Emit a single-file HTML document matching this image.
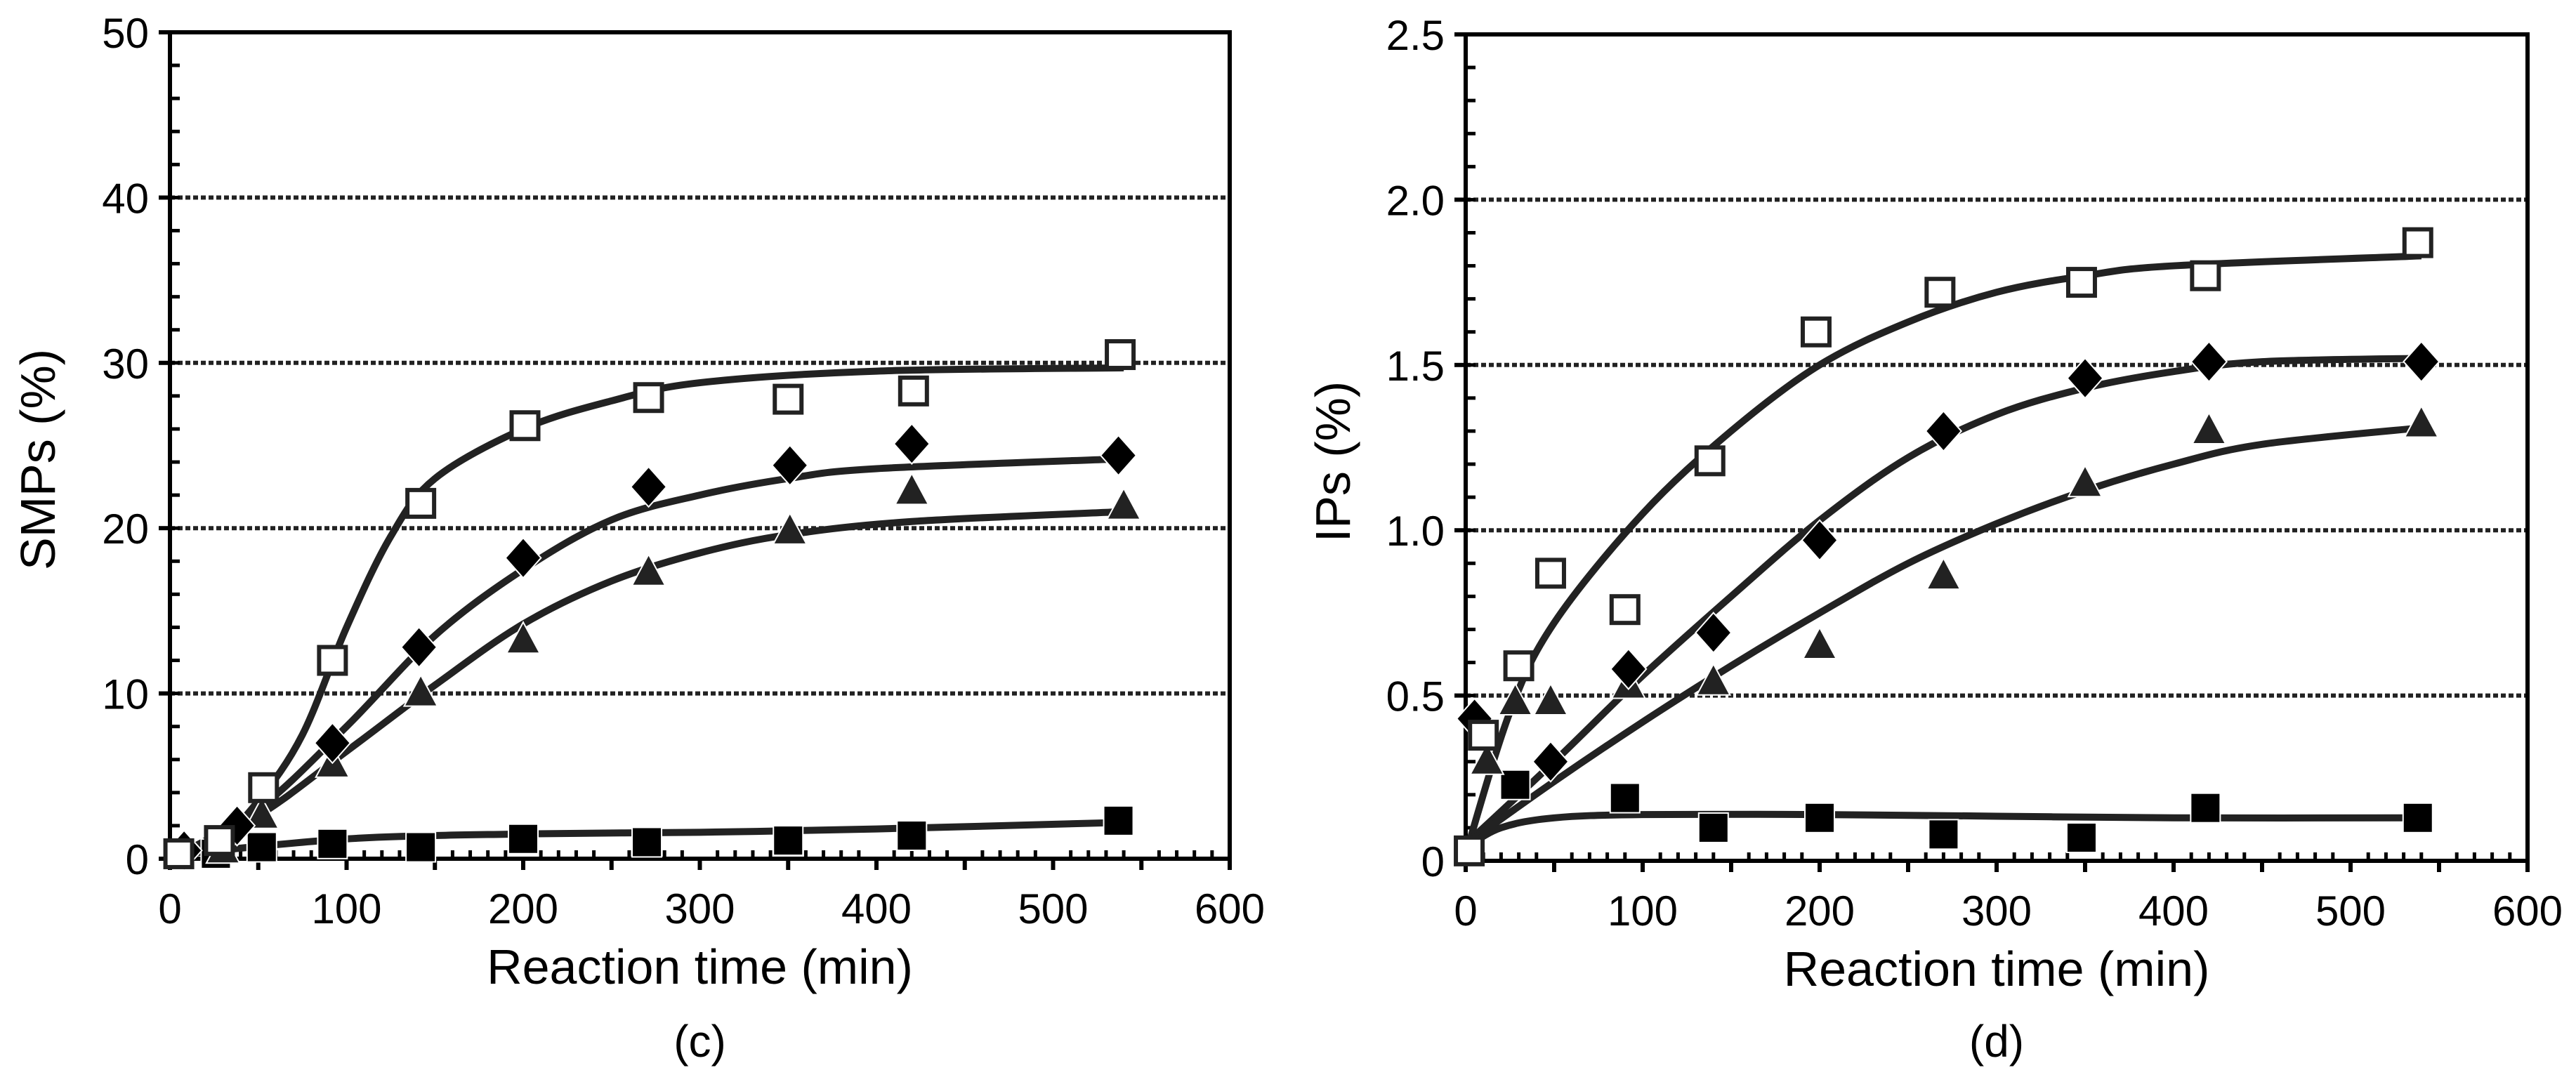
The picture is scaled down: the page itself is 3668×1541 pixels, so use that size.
<!DOCTYPE html>
<html><head><meta charset="utf-8">
<style>
html,body{margin:0;padding:0;background:#fff;}
svg{display:block;font-family:"Liberation Sans",Arial,sans-serif;}
</style></head>
<body>
<svg id="fig" width="3668" height="1541" viewBox="0 0 3668 1541"></svg>
<script>
// ---------- Panel (c): SMPs ----------
const cOpenSqX = [5, 28, 53, 92, 142, 201, 271, 350, 421, 538];
const cOpenSqY = [0.3, 1.1, 4.3, 12.0, 21.5, 26.2, 27.9, 27.8, 28.3, 30.5];
const cDiaX = [8, 38, 92, 141, 200, 271, 351, 420, 537];
const cDiaY = [0.5, 2.0, 7.0, 12.8, 18.2, 22.5, 23.8, 25.1, 24.4];
const cTriX = [30, 52, 92, 142, 200, 271, 351, 420, 540];
const cTriY = [0.5, 2.6, 5.7, 10.0, 13.2, 17.3, 19.8, 22.2, 21.3];
const cFillSqX = [26, 52, 92, 142, 200, 270, 350, 420, 537];
const cFillSqY = [0.3, 0.7, 0.9, 0.7, 1.2, 1.0, 1.1, 1.4, 2.3];
const cFitOpenT = [0, 25, 50, 75, 100, 125, 150, 200, 250, 300, 400, 540];
const cFitOpenV = [0, 0.8, 3.5, 7.5, 14.0, 19.5, 23.0, 26.0, 27.7, 28.8, 29.5, 29.7];
const cFitDiaT = [0, 50, 100, 150, 200, 250, 300, 350, 400, 540];
const cFitDiaV = [0, 3.0, 8.0, 13.5, 17.5, 20.5, 22.0, 23.0, 23.6, 24.2];
const cFitTriT = [0, 50, 100, 150, 200, 250, 300, 350, 420, 540];
const cFitTriV = [0, 2.6, 6.5, 10.5, 14.2, 16.8, 18.5, 19.6, 20.4, 21.0];
const cFitFillT = [0, 100, 200, 300, 400, 540];
const cFitFillV = [0.2, 1.2, 1.5, 1.6, 1.8, 2.2];
const cYTicks = [0, 10, 20, 30, 40, 50];
const cYTickLabels = ["0", "10", "20", "30", "40", "50"];
const xTicks = [0, 100, 200, 300, 400, 500, 600];
const xTickLabels = ["0", "100", "200", "300", "400", "500", "600"];

// ---------- Panel (d): IPs ----------
const dOpenSqX = [2, 10, 30, 48, 90, 138, 198, 268, 348, 418, 538];
const dOpenSqY = [0.03, 0.38, 0.59, 0.87, 0.76, 1.21, 1.60, 1.72, 1.75, 1.77, 1.87];
const dDiaX = [5, 48, 92, 140, 200, 270, 350, 420, 540];
const dDiaY = [0.43, 0.30, 0.58, 0.69, 0.97, 1.30, 1.46, 1.51, 1.51];
const dTriX = [12, 28, 48, 92, 140, 200, 270, 350, 420, 540];
const dTriY = [0.30, 0.48, 0.48, 0.53, 0.54, 0.65, 0.86, 1.14, 1.30, 1.32];
const dFillSqX = [28, 90, 140, 200, 270, 348, 418, 538];
const dFillSqY = [0.23, 0.19, 0.10, 0.13, 0.08, 0.07, 0.16, 0.13];
const dFitOpenT = [0, 25, 50, 100, 150, 200, 250, 300, 350, 400, 540];
const dFitOpenV = [0.02, 0.45, 0.72, 1.05, 1.30, 1.50, 1.63, 1.72, 1.77, 1.80, 1.83];
const dFitDiaT = [0, 50, 100, 150, 200, 250, 300, 350, 400, 450, 540];
const dFitDiaV = [0.05, 0.30, 0.56, 0.80, 1.03, 1.22, 1.35, 1.43, 1.48, 1.51, 1.52];
const dFitTriT = [0, 50, 100, 150, 200, 250, 300, 350, 400, 450, 540];
const dFitTriV = [0.05, 0.24, 0.42, 0.59, 0.75, 0.90, 1.02, 1.12, 1.20, 1.26, 1.31];
const dFitFillT = [0, 20, 50, 100, 200, 300, 400, 540];
const dFitFillV = [0.04, 0.10, 0.13, 0.14, 0.14, 0.135, 0.13, 0.13];
const dYTicks = [0, 0.5, 1.0, 1.5, 2.0, 2.5];
const dYTickLabels = ["0", "0.5", "1.0", "1.5", "2.0", "2.5"];

const NS = "http://www.w3.org/2000/svg";
const svg = document.getElementById("fig");
function mk(tag, attrs, parent) {
  const e = document.createElementNS(NS, tag);
  for (const k in attrs) e.setAttribute(k, attrs[k]);
  (parent || svg).appendChild(e);
  return e;
}
function smoothPath(pts) {
  let d = "M" + pts[0][0] + "," + pts[0][1];
  for (let i = 0; i < pts.length - 1; i++) {
    const p0 = pts[Math.max(0, i - 1)], p1 = pts[i], p2 = pts[i + 1], p3 = pts[Math.min(pts.length - 1, i + 2)];
    const c1x = p1[0] + (p2[0] - p0[0]) / 6, c1y = p1[1] + (p2[1] - p0[1]) / 6;
    const c2x = p2[0] - (p3[0] - p1[0]) / 6, c2y = p2[1] - (p3[1] - p1[1]) / 6;
    d += " C" + c1x + "," + c1y + " " + c2x + "," + c2y + " " + p2[0] + "," + p2[1];
  }
  return d;
}

function panel(cfg) {
  const g = mk("g", {});
  
  
  const X = t => cfg.x0 + (cfg.x1 - cfg.x0) * t / 600;
  const Y = v => cfg.y0 - (cfg.y0 - cfg.yTop) * v / cfg.yMax;

  cfg.yTicks.forEach(v => {
    if (v === 0 || v === cfg.yMax) return;
    const l = mk("line", {x1: X(0), x2: X(600), y1: Y(v), y2: Y(v), stroke: "#222", "stroke-width": 6, "stroke-dasharray": "7 4"}, g);
    
    
  });
  for (let i = 0; i <= cfg.yMax / cfg.yMinor + 0.01; i++) {
    const v = i * cfg.yMinor;
    mk("line", {x1: X(0), x2: X(0) + 14, y1: Y(v), y2: Y(v), stroke: "#000", "stroke-width": 5}, g);
  }
  cfg.yTicks.forEach((v, i) => {
    mk("line", {x1: X(0) - 16, x2: X(0), y1: Y(v), y2: Y(v), stroke: "#000", "stroke-width": 6}, g);
    const t = mk("text", {x: X(0) - 30, y: Y(v) + 22, "text-anchor": "end", "font-size": 60, fill: "#000"}, g);
    t.textContent = cfg.yLabels[i];
    
    
  });
  for (let t = 0; t <= 600; t += 10) {
    if (t % 50 === 0) mk("line", {x1: X(t), x2: X(t), y1: Y(0), y2: Y(0) + 16, stroke: "#000", "stroke-width": 6}, g);
    else mk("line", {x1: X(t), x2: X(t), y1: Y(0), y2: Y(0) - 12, stroke: "#000", "stroke-width": 5}, g);
  }
  xTicks.forEach((v, i) => {
    const t = mk("text", {x: X(v), y: Y(0) + 92, "text-anchor": "middle", "font-size": 60, fill: "#000"}, g);
    t.textContent = xTickLabels[i];
    
    
  });
  const fr = mk("rect", {x: X(0), y: Y(cfg.yMax), width: X(600) - X(0), height: Y(0) - Y(cfg.yMax), fill: "none", stroke: "#000", "stroke-width": 6}, g);
  
  

  cfg.fits.forEach(f => {
    const pts = f.t.map((t, i) => [X(t), Y(f.v[i])]);
    const p = mk("path", {d: smoothPath(pts), fill: "none", stroke: "#222", "stroke-width": 10}, g);
    
    
  });

  cfg.series.forEach(s => {
    s.x.forEach((t, i) => {
      const cx = X(t), cy = Y(s.y[i]);
      let m;
      if (s.kind === "open") m = mk("rect", {x: cx - 19, y: cy - 19, width: 38, height: 38, fill: "#fff", stroke: "#222", "stroke-width": 6}, g);
      else if (s.kind === "fillsq") m = mk("rect", {x: cx - 20, y: cy - 20, width: 40, height: 40, fill: "#000", stroke: "#fff", "stroke-width": 4, "paint-order": "stroke"}, g);
      else if (s.kind === "dia") m = mk("polygon", {points: `${cx},${cy - 27} ${cx + 24},${cy} ${cx},${cy + 27} ${cx - 24},${cy}`, fill: "#000", stroke: "#fff", "stroke-width": 4, "paint-order": "stroke"}, g);
      else m = mk("polygon", {points: `${cx},${cy - 24} ${cx + 22},${cy + 17} ${cx - 22},${cy + 17}`, fill: "#222", stroke: "#fff", "stroke-width": 4, "paint-order": "stroke"}, g);
      
      
    });
  });

  const xt = mk("text", {x: (X(0) + X(600)) / 2, y: cfg.y0 + 178, "text-anchor": "middle", "font-size": 70, fill: "#000"}, g);
  xt.textContent = "Reaction time (min)";
  
  
  const yt = mk("text", {x: 0, y: 0, "text-anchor": "middle", "font-size": 70, fill: "#000", transform: `translate(${cfg.yTitleX},${(Y(0) + Y(cfg.yMax)) / 2 + 20}) rotate(-90)`}, g);
  yt.textContent = cfg.yTitle;
  
  
  const pl = mk("text", {x: (X(0) + X(600)) / 2, y: 1505, "text-anchor": "middle", "font-size": 64, fill: "#000"}, g);
  pl.textContent = cfg.label;
  
  
}

panel({
  name: "smps-chart", x0: 242, x1: 1751, y0: 1223, yTop: 46, yMax: 50, yMinor: 2,
  yTicks: cYTicks, yLabels: cYTickLabels, yTitle: "SMPs (%)", yTitleX: 78, label: "(c)",
  fits: [
    {name: "fit-open-square", t: cFitOpenT, v: cFitOpenV},
    {name: "fit-diamond", t: cFitDiaT, v: cFitDiaV},
    {name: "fit-triangle", t: cFitTriT, v: cFitTriV},
    {name: "fit-filled-square", t: cFitFillT, v: cFitFillV}
  ],
  series: [
    {name: "point-filled-square", kind: "fillsq", x: cFillSqX, y: cFillSqY},
    {name: "point-triangle", kind: "tri", x: cTriX, y: cTriY},
    {name: "point-diamond", kind: "dia", x: cDiaX, y: cDiaY},
    {name: "point-open-square", kind: "open", x: cOpenSqX, y: cOpenSqY}
  ]
});
panel({
  name: "ips-chart", x0: 2087, x1: 3599, y0: 1226, yTop: 49, yMax: 2.5, yMinor: 0.1,
  yTicks: dYTicks, yLabels: dYTickLabels, yTitle: "IPs (%)", yTitleX: 1922, label: "(d)",
  fits: [
    {name: "fit-open-square", t: dFitOpenT, v: dFitOpenV},
    {name: "fit-diamond", t: dFitDiaT, v: dFitDiaV},
    {name: "fit-triangle", t: dFitTriT, v: dFitTriV},
    {name: "fit-filled-square", t: dFitFillT, v: dFitFillV}
  ],
  series: [
    {name: "point-filled-square", kind: "fillsq", x: dFillSqX, y: dFillSqY},
    {name: "point-triangle", kind: "tri", x: dTriX, y: dTriY},
    {name: "point-diamond", kind: "dia", x: dDiaX, y: dDiaY},
    {name: "point-open-square", kind: "open", x: dOpenSqX, y: dOpenSqY}
  ]
});
</script>
</body></html>
